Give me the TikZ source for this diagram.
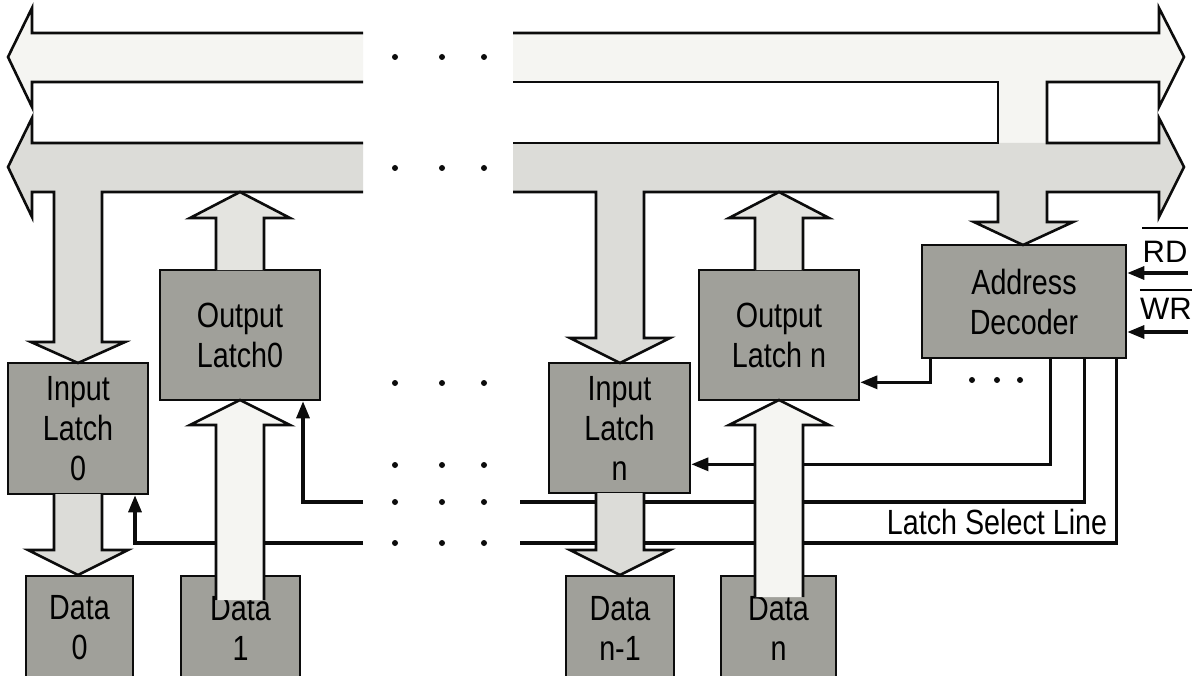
\documentclass[tikz,border=0pt]{standalone}
\usepackage{fontspec}
\setmainfont{Liberation Sans}[FakeStretch=0.82]
\newfontfamily\widesans{Liberation Sans}
\usetikzlibrary{arrows.meta}

\definecolor{boxgray}{RGB}{160,160,154}
\definecolor{busA}{RGB}{245,245,242}
\definecolor{busB}{RGB}{220,220,216}
\definecolor{stemgray}{RGB}{228,228,224}
\definecolor{ink}{RGB}{12,12,12}

% vertical block arrow: centre x, open stem end y, head base y, tip y, fill
\newcommand\fatarrow[5]{%
  \filldraw[outline, fill=#5] ({#1-24},#2) -- ({#1-24},#3) -- ({#1-50},#3)
    -- (#1,#4) -- ({#1+50},#3) -- ({#1+24},#3) -- ({#1+24},#2);}

\begin{document}
\begin{tikzpicture}[x=1pt,y=-1pt,
  latch/.style={draw=ink, line width=2.6pt, fill=boxgray, inner sep=0pt,
    align=center, font=\fontsize{35}{40}\selectfont},
  outline/.style={draw=ink, line width=2.6pt, line join=miter},
  sel/.style={draw=ink, line width=3.2pt, -{Triangle[length=17pt,width=13pt]}},
  wire/.style={draw=ink, line width=3.2pt},
  dotmark/.style={fill=ink, circle, inner sep=0pt, minimum size=6pt},
  lbl/.style={inner sep=0pt, font=\fontsize{35}{40}\selectfont},
  sig/.style={inner sep=0pt, font=\widesans\fontsize{31}{36}\selectfont}]

\clip (0,0) rectangle (1198,676);
\fill[white] (0,0) rectangle (1198,676);

% ---- latches, data ports and decoder ----
\node[latch, minimum width=140pt, minimum height=131pt] (il0) at (78,428.5) {Input\\Latch\\0};
\node[latch, minimum width=160pt, minimum height=130pt] (ol0) at (240,335) {Output\\Latch0};
\node[latch, minimum width=141pt, minimum height=130pt] (iln) at (619.5,428) {Input\\Latch\\n};
\node[latch, minimum width=160pt, minimum height=130pt] (oln) at (779,335) {Output\\Latch n};
\node[latch, minimum width=204pt, minimum height=113pt] (dec) at (1024,301.5) {Address\\Decoder};
\node[latch, minimum width=107pt, minimum height=104pt] (d0) at (79.5,628) {Data\\0};
\node[latch, minimum width=119pt, minimum height=104pt] (d1) at (240.5,628) {Data\\1};
\node[latch, minimum width=108pt, minimum height=104pt] (dn1) at (620,628) {Data\\n-1};
\node[latch, minimum width=115pt, minimum height=104pt] (dn) at (778.5,628) {Data\\n};

% ---- control inputs ----
\node[sig] (rd) at (1165,252) {RD};
\node[sig] (wr) at (1166,309) {WR};
\draw[line width=2.4pt] ([yshift=13pt]rd.north west) -- ([yshift=13pt]rd.north east);
\draw[line width=2.4pt] ([yshift=8pt]wr.north west) -- ([yshift=8pt]wr.north east);
\coordinate (rdin) at (1188,273);
\coordinate (wrin) at (1188,332);
\draw[sel] (rdin) -- (dec.east |- rdin);
\draw[sel] (wrin) -- (dec.east |- wrin);

% ---- latch select lines ----
\coordinate (s0) at (363,502);
\coordinate (s1) at (363,543);
\coordinate (s2) at (520,502);
\coordinate (s3) at (520,543);
\draw[sel] (s0) -| ([xshift=63pt]ol0.south);
\draw[sel] (s1) -| ([xshift=57pt]il0.south);
\draw[sel] ([xshift=10pt]dec.south west) |- ([yshift=19pt]oln.south east);
\draw[sel] ([xshift=130pt]dec.south west) |- ([yshift=30pt]iln.south east);
\draw[wire] ([xshift=164pt]dec.south west) |- (s2);
\draw[wire] ([xshift=196pt]dec.south west) |- (s3);
\node[lbl] (lsl) at (997,522) {Latch Select Line};

% ---- continuation dots ----
\foreach \yy in {57,168,383,465,502,543}
  \foreach \xx in {395,442,484}
    \node[dotmark] at (\xx,\yy) {};
\foreach \xx in {972,997,1020}
  \node[dotmark] at (\xx,380) {};

% ---- buses, left part ----
\filldraw[outline, fill=busA] (363,33) -- (32,33) -- (32,8) -- (8,57) -- (32,107)
  -- (32,82) -- (363,82);
\filldraw[outline, fill=busB] (363,143) -- (32,143) -- (32,118) -- (8,167) -- (32,217)
  -- (32,192) -- (54,192) -- (54,342) -- (31,342) -- (78,363) -- (125,342)
  -- (102,342) -- (102,192) -- (363,192);

% ---- buses, right part with decoder tap ----
\fill[busA] (513,33) -- (1159,33) -- (1159,8) -- (1184,57) -- (1159,107)
  -- (1159,82) -- (513,82) -- cycle;
\fill[busA] (998,80) rectangle (1047,145);
\fill[busB] (513,143) -- (1159,143) -- (1159,118) -- (1184,167) -- (1159,217)
  -- (1159,192) -- (1047,192) -- (1047,222) -- (1073,222) -- (1023,245)
  -- (974,222) -- (998,222) -- (998,192) -- (644,192) -- (644,338) -- (670,338)
  -- (620,363) -- (570,338) -- (596,338) -- (596,192) -- (513,192) -- cycle;
\draw[outline] (513,33) -- (1159,33) -- (1159,8) -- (1184,57) -- (1159,107)
  -- (1159,82) -- (1047,82) -- (1047,143) -- (1159,143) -- (1159,118)
  -- (1184,167) -- (1159,217) -- (1159,192) -- (1047,192) -- (1047,222)
  -- (1073,222) -- (1023,245) -- (974,222) -- (998,222) -- (998,192)
  -- (644,192) -- (644,338) -- (670,338) -- (620,363) -- (570,338)
  -- (596,338) -- (596,192) -- (513,192);
\draw[outline] (513,143) -- (998,143) -- (998,82) -- (513,82);

% ---- data paths ----
\fatarrow{78}{494}{550}{575}{busB}
\fatarrow{620}{493}{550}{575}{busB}
\fatarrow{240}{270}{218}{192}{stemgray}
\fatarrow{779}{270}{218}{192}{stemgray}
\fatarrow{240}{600}{425}{400}{busA}
\fatarrow{779}{597}{425}{400}{busA}
\end{tikzpicture}
\end{document}
